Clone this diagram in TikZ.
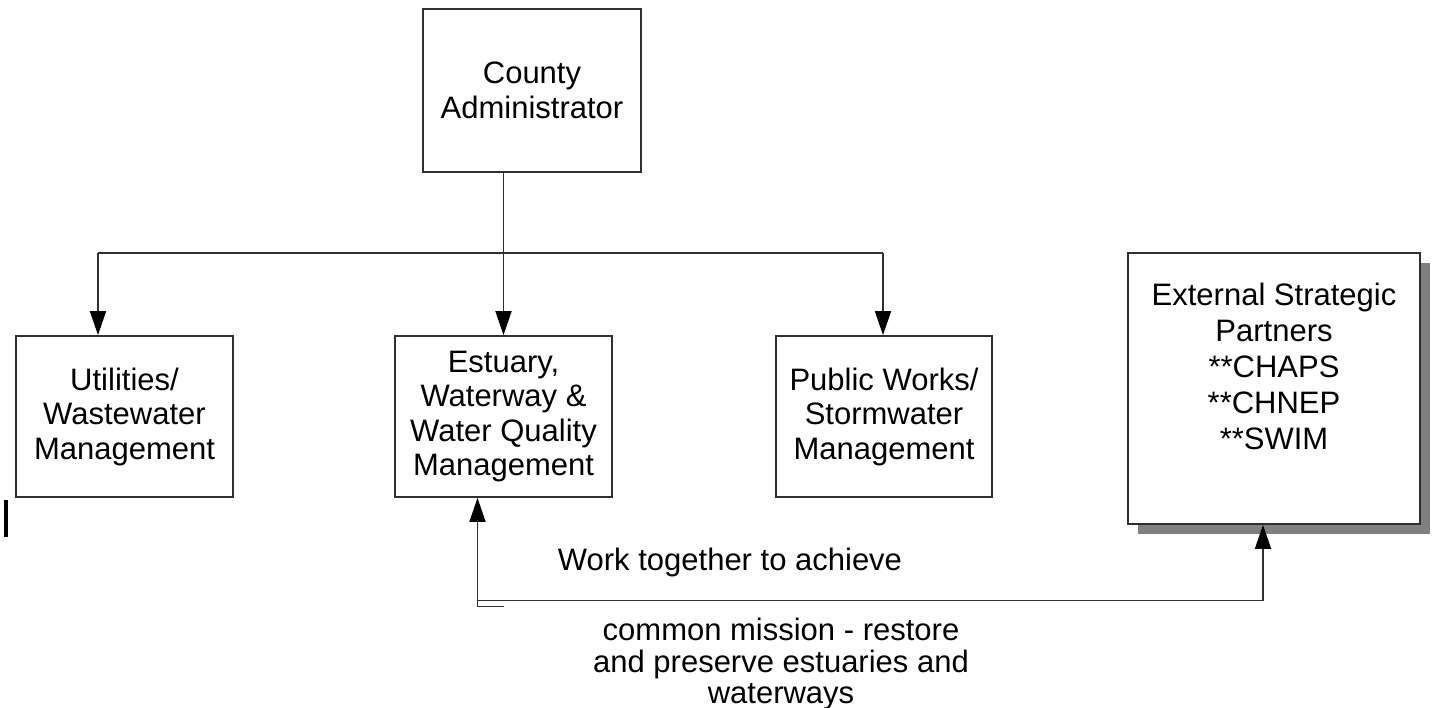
\documentclass[tikz,border=0pt]{standalone}
\usepackage{fontspec}
\setmainfont{Liberation Sans}
\usetikzlibrary{arrows.meta,shadows}
\definecolor{linec}{HTML}{303030}
\tikzset{
  orgbox/.style={draw=linec, line width=1.8pt, fill=white, inner sep=0pt, align=center,
    font=\fontsize{31}{34.5}\selectfont},
  conn/.style={draw=linec, line width=1.7pt},
  arr/.style={conn, -{Triangle[length=24pt,width=16pt,fill=black,color=black]}},
  lbl/.style={inner sep=0pt, align=center, font=\fontsize{31}{31.5}\selectfont}
}
\begin{document}
\begin{tikzpicture}[x=1pt,y=-1pt]
\useasboundingbox (0,0) rectangle (1435,708);
\node[orgbox, minimum width=218pt, minimum height=163pt] (county) at (532,90.5) {County\\Administrator};
\node[orgbox, minimum width=217pt, minimum height=161pt] (util) at (124.5,416.5) {Utilities/\\Wastewater\\Management};
\node[orgbox, minimum width=217pt, minimum height=161pt] (est) at (503.5,416.5) {Estuary,\\Waterway \&\\Water Quality\\Management};
\node[orgbox, minimum width=216pt, minimum height=161pt] (pw) at (884,416.5) {Public Works/\\Stormwater\\Management};
\node[orgbox, minimum width=292pt, minimum height=271pt,
  drop shadow={shadow xshift=10pt, shadow yshift=-10pt, opacity=1, fill=gray}] (ext) at (1274,388.5) {};
\node[orgbox, draw=none, fill=none, anchor=north, font=\fontsize{31}{36}\selectfont] (extText) at (1274,282) {External Strategic\\Partners\\**CHAPS\\**CHNEP\\**SWIM};

\coordinate (jl) at (98,253);
\coordinate (jr) at (883,253);
\draw[conn] (county.south -| est.north) -- (est.north |- jl);
\draw[arr] (est.north |- jl) -- (est.north);
\draw[conn] (jl) -- (jr);
\draw[arr] (jl) -- (jl |- util.north);
\draw[arr] (jr) -- (jr |- pw.north);

\coordinate (b1) at (477.5,600.5);
\coordinate (b2) at (1263,600.5);
\coordinate (s1) at (477.5,606.5);
\coordinate (s2) at (504,606.5);
\draw[conn] (b1) -- (b2);
\draw[arr] (b2) -- (b2 |- ext.south);
\draw[arr] (s2) -- (s1) -- (s1 |- est.south);

\node[lbl, anchor=base] (work) at (730,570) {Work together to achieve};
\node[lbl, anchor=north] (mission) at (781,618) {common mission - restore\\and preserve estuaries and\\waterways};

\fill[black] (4.3,500) rectangle (8.3,537);
\end{tikzpicture}
\end{document}
